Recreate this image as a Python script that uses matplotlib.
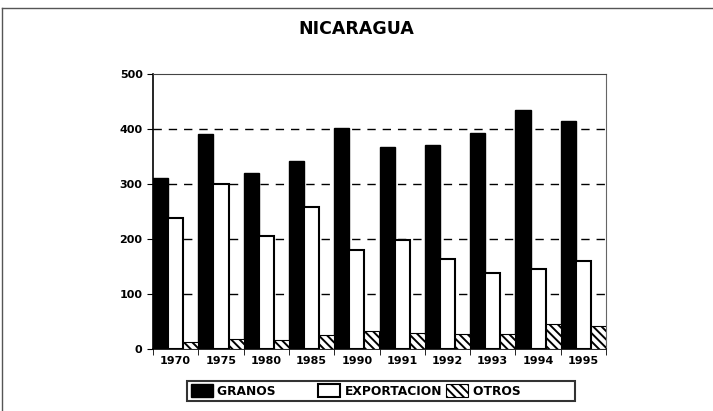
import matplotlib.pyplot as plt
import numpy as np

years = ['1970', '1975', '1980', '1985', '1990', '1991', '1992', '1993', '1994', '1995']
granos = [310, 390, 320, 342, 402, 368, 370, 393, 435, 415]
exportacion = [238, 300, 205, 258, 180, 198, 163, 138, 145, 160]
otros = [12, 18, 16, 25, 33, 29, 28, 28, 46, 42]

plt.rcParams['hatch.linewidth'] = 1.4
fig = plt.figure(figsize=(7.13, 4.11), dpi=100)
ax = fig.add_axes([153/713, 1-349/411, (606-153)/713, (349-74)/411])

x = np.arange(len(years))
w = 1/3.
# trailing spaces keep the legend columns about equal, as in the original
ax.bar(x - w, granos, w, color='black', edgecolor='black', label='GRANOS         ', zorder=3)
ax.bar(x, exportacion, w, color='white', edgecolor='black', linewidth=1.5, label='EXPORTACION', zorder=3)
ax.bar(x + w, otros, w, color='white', edgecolor='black', hatch='\\\\\\\\', linewidth=0.8,
       label='OTROS            ', zorder=3)

ax.set_xlim(-0.5, len(years) - 0.5)
ax.set_ylim(0, 500)
ax.set_yticks([0, 100, 200, 300, 400, 500])
ax.set_yticklabels(['0', '100', '200', '300', '400', '500'], fontweight='bold', fontsize=8)
ax.set_xticks(x)
ax.set_xticklabels(years, fontweight='bold', fontsize=8)
ax.tick_params(axis='x', length=0, pad=5)
ax.set_xticks(np.arange(len(years) + 1) - 0.5, minor=True)
ax.tick_params(axis='x', which='minor', length=4, direction='out')
ax.tick_params(axis='y', length=4, direction='out')
for y in [100, 200, 300, 400]:
    ax.axhline(y, color='black', linestyle=(0, (6, 5)), linewidth=1, zorder=1)
ax.spines['left'].set_linewidth(1.2)
ax.spines['bottom'].set_linewidth(1.2)
ax.spines['top'].set_color('#444444')
ax.spines['right'].set_color('#666666')
ax.spines['right'].set_linewidth(0.8)

fig.text(0.5, 1-29/411, 'NICARAGUA', ha='center', va='center', fontsize=12.5, fontweight='bold')

leg = fig.legend(loc='center', bbox_to_anchor=(381/713, 1-391/411), ncol=3, frameon=True,
                 fancybox=False, edgecolor='black', prop={'weight': 'bold', 'size': 8.8},
                 handlelength=1.8, handleheight=1.2, columnspacing=0.3, handletextpad=0.4,
                 borderpad=0.3, borderaxespad=0)
leg.get_frame().set_linewidth(1.5)

# outer frame of the scanned page
fig.add_artist(plt.Line2D([2/713, 1], [1-8/411, 1-8/411], color='#555555', linewidth=1))
fig.add_artist(plt.Line2D([2/713, 2/713], [0, 1-8/411], color='#555555', linewidth=1))

plt.savefig('out.png', dpi=100)
